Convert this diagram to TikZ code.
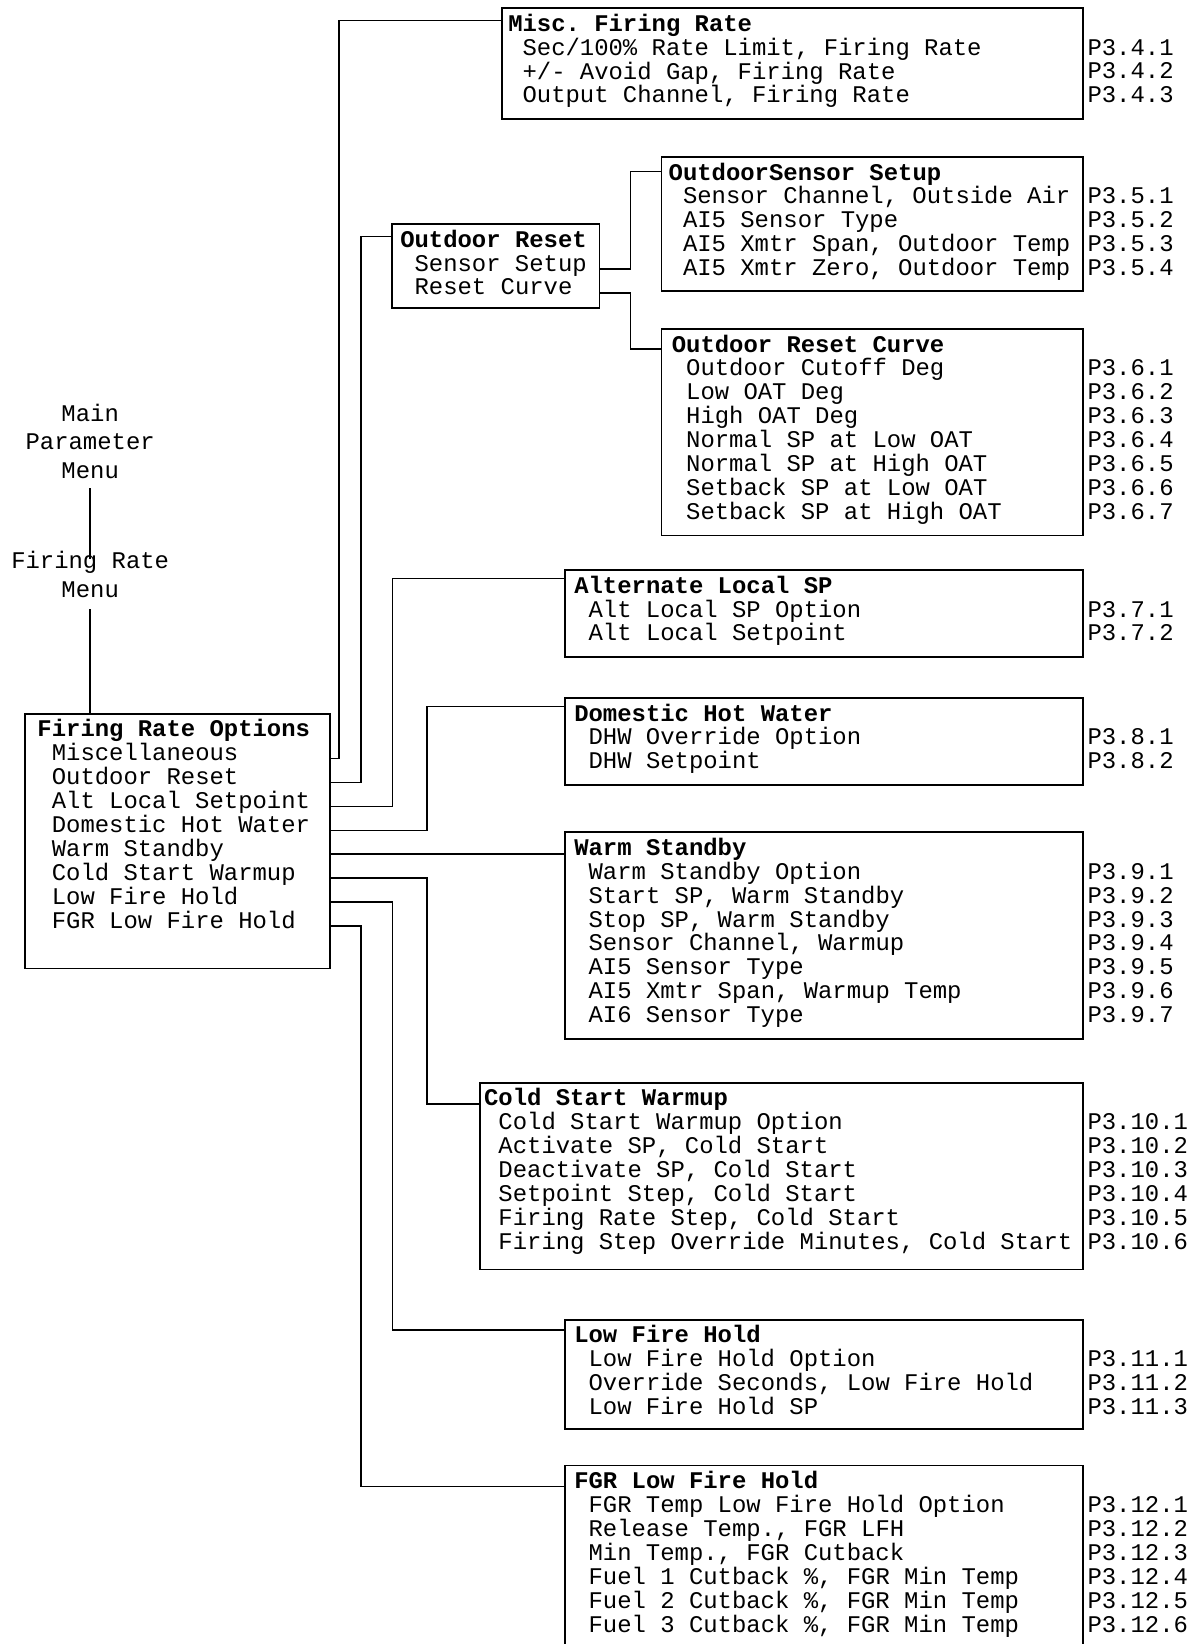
\documentclass[tikz,border=0pt]{standalone}
\usepackage{fontspec}
\setmainfont{Liberation Mono}
\newcommand{\itm}{\hspace*{0.6em}}

\begin{document}
\begin{tikzpicture}[x=0.5pt, y=-0.5pt, line width=0.75pt,
  menubox/.style = {draw, anchor=north west, align=left,
    inner xsep=4.5pt, inner ysep=0pt, text height=11pt,
    font=\fontsize{11.4pt}{11.4pt}\selectfont,
    execute at begin node={\spaceskip=0.6em\xspaceskip=0.6em\relax}},
  plabel/.style = {anchor=base west, align=left, inner sep=1.5pt,
    text width=50pt, font=\fontsize{11.4pt}{11.4pt}\selectfont},
  menulabel/.style = {align=center, inner sep=0pt,
    font=\fontsize{11.4pt}{13.8pt}\selectfont}]
  \useasboundingbox (0,0) rectangle (1139,1568);

  % menu path
  \node[menulabel] (mainmenu) at (86,421) {Main\\Parameter\\Menu};
  \node[menulabel] (frmenu) at (86,548) {Firing Rate\\Menu};

  \node[menubox, inner xsep=6pt, text width=133.5pt, text depth=110.5pt] (fro) at (23,680)
    {\textbf{Firing Rate Options}\\ \itm Miscellaneous\\ \itm Outdoor Reset\\
     \itm Alt Local Setpoint\\ \itm Domestic Hot Water\\ \itm Warm Standby\\
     \itm Cold Start Warmup\\ \itm Low Fire Hold\\ \itm FGR Low Fire Hold};

  \draw ([yshift=-4pt]mainmenu.south) -- ([yshift=-4pt]frmenu.north);
  \draw ([yshift=-5pt]frmenu.south) -- (frmenu.south |- fro.north);

  % sub menus
  \node[menubox, inner xsep=3pt, text width=271pt, text depth=42pt] (misc) at (478,7)
    {\textbf{Misc. Firing Rate}\\ \itm Sec/100\% Rate Limit, Firing Rate\\
     \itm +/- Avoid Gap, Firing Rate\\ \itm Output Channel, Firing Rate};
  \node[plabel] (misc-p) at ([yshift=-11.4pt]misc.base east) {P3.4.1\\P3.4.2\\P3.4.3};

  \node[menubox, inner xsep=4pt, text width=91pt, text depth=29pt] (outdoor) at (373,213)
    {\textbf{Outdoor Reset}\\ \itm Sensor Setup\\ \itm Reset Curve};

  \node[menubox, inner xsep=3.5pt, text width=194pt, text depth=53pt] (sensor) at (630,149)
    {\textbf{OutdoorSensor Setup}\\ \itm Sensor Channel, Outside Air\\ \itm AI5 Sensor Type\\
     \itm AI5 Xmtr Span, Outdoor Temp\\ \itm AI5 Xmtr Zero, Outdoor Temp};
  \node[plabel] (sensor-p) at ([yshift=-11.4pt]sensor.base east) {P3.5.1\\P3.5.2\\P3.5.3\\P3.5.4};

  \node[menubox, inner xsep=5pt, text width=191pt, text depth=87.5pt] (curve) at (630,313)
    {\textbf{Outdoor Reset Curve}\\ \itm Outdoor Cutoff Deg\\ \itm Low OAT Deg\\
     \itm High OAT Deg\\ \itm Normal SP at Low OAT\\ \itm Normal SP at High OAT\\
     \itm Setback SP at Low OAT\\ \itm Setback SP at High OAT};
  \node[plabel] (curve-p) at ([yshift=-11.4pt]curve.base east)
    {P3.6.1\\P3.6.2\\P3.6.3\\P3.6.4\\P3.6.5\\P3.6.6\\P3.6.7};

  \node[menubox, text width=238pt, text depth=30.5pt] (alt) at (538,543)
    {\textbf{Alternate Local SP}\\ \itm Alt Local SP Option\\ \itm Alt Local Setpoint};
  \node[plabel] (alt-p) at ([yshift=-11.4pt]alt.base east) {P3.7.1\\P3.7.2};

  \node[menubox, text width=238pt, text depth=30.5pt] (dhw) at (538,665)
    {\textbf{Domestic Hot Water}\\ \itm DHW Override Option\\ \itm DHW Setpoint};
  \node[plabel] (dhw-p) at ([yshift=-11.4pt]dhw.base east) {P3.8.1\\P3.8.2};

  \node[menubox, text width=238pt, text depth=87.5pt] (warm) at (538,793)
    {\textbf{Warm Standby}\\ \itm Warm Standby Option\\ \itm Start SP, Warm Standby\\
     \itm Stop SP, Warm Standby\\ \itm Sensor Channel, Warmup\\ \itm AI5 Sensor Type\\
     \itm AI5 Xmtr Span, Warmup Temp\\ \itm AI6 Sensor Type};
  \node[plabel] (warm-p) at ([yshift=-11.4pt]warm.base east)
    {P3.9.1\\P3.9.2\\P3.9.3\\P3.9.4\\P3.9.5\\P3.9.6\\P3.9.7};

  \node[menubox, inner xsep=2pt, text width=283.5pt, text depth=78pt] (cold) at (457,1032)
    {\textbf{Cold Start Warmup}\\ \itm Cold Start Warmup Option\\ \itm Activate SP, Cold Start\\
     \itm Deactivate SP, Cold Start\\ \itm Setpoint Step, Cold Start\\
     \itm Firing Rate Step, Cold Start\\ \itm Firing Step Override Minutes, Cold Start};
  \node[plabel] (cold-p) at ([yshift=-11.4pt]cold.base east)
    {P3.10.1\\P3.10.2\\P3.10.3\\P3.10.4\\P3.10.5\\P3.10.6};

  \node[menubox, text width=238pt, text depth=41pt] (low) at (538,1258)
    {\textbf{Low Fire Hold}\\ \itm Low Fire Hold Option\\
     \itm Override Seconds, Low Fire Hold\\ \itm Low Fire Hold SP};
  \node[plabel] (low-p) at ([yshift=-11.4pt]low.base east) {P3.11.1\\P3.11.2\\P3.11.3};

  \node[menubox, text width=238pt, text depth=95pt] (fgr) at (538,1397)
    {\textbf{FGR Low Fire Hold}\\ \itm FGR Temp Low Fire Hold Option\\
     \itm Release Temp., FGR LFH\\ \itm Min Temp., FGR Cutback\\
     \itm Fuel 1 Cutback \%, FGR Min Temp\\ \itm Fuel 2 Cutback \%, FGR Min Temp\\
     \itm Fuel 3 Cutback \%, FGR Min Temp};
  \node[plabel] (fgr-p) at ([yshift=-11.4pt]fgr.base east)
    {P3.12.1\\P3.12.2\\P3.12.3\\P3.12.4\\P3.12.5\\P3.12.6};

  % connectors
  \foreach \k in {1,...,8}
    \coordinate (fro-\k) at ([yshift={1pt-\k*11.4pt}]fro.base east);
  \foreach \k in {1,2}
    \coordinate (outdoor-\k) at ([yshift={1pt-\k*11.4pt}]outdoor.base east);

  \draw (fro-1) -- ++(8,0) |- ([yshift=5pt]misc.base west);
  \draw (fro-2) -- ++(29,0) |- ([yshift=5pt]outdoor.base west);
  \draw (fro-3) -- ++(59,0) |- ([yshift=7pt]alt.base west);
  \draw (fro-4) -- ++(92,0) |- ([yshift=7pt]dhw.base west);
  \draw (fro-5) -- (fro-5 -| warm.west);
  \draw (fro-6) -- ++(92,0) |- ([yshift=1pt]cold.base west);
  \draw (fro-7) -- ++(59,0) |- ([yshift=6pt]low.base west);
  \draw (fro-8) -- ++(29,0) |- ([yshift=1pt]fgr.base west);

  \draw (outdoor-1) -- ++(29,0) |- ([yshift=4pt]sensor.base west);
  \draw (outdoor-2) -- ++(29,0) |- ([yshift=1.5pt]curve.base west);
\end{tikzpicture}
\end{document}
